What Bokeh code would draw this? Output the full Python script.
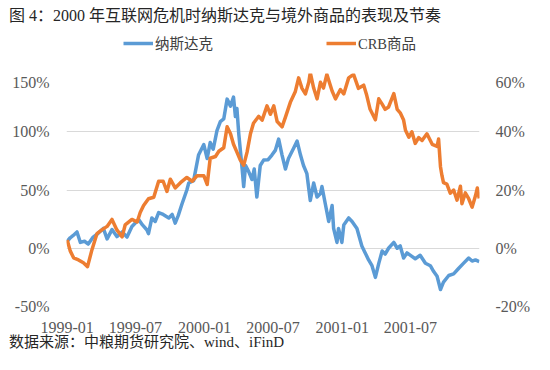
import pandas as pd
from bokeh.plotting import figure
from bokeh.layouts import column
from bokeh.models import (Range1d, LinearAxis, FixedTicker, PrintfTickFormatter, Title,
                          DatetimeTickFormatter, Legend, LegendItem, ColumnDataSource)
from bokeh.embed import file_html
from bokeh.resources import INLINE

title_text = "图 4：2000 年互联网危机时纳斯达克与境外商品的表现及节奏"
source_text = "数据来源：中粮期货研究院、wind、iFinD"
series_names = ["纳斯达克", "CRB商品"]
left_ticks = [-50, 0, 50, 100, 150]
right_ticks = [-20, 0, 20, 40, 60]
x_tick_labels = ["1999-01", "1999-07", "2000-01", "2000-07", "2001-01", "2001-07"]

nasdaq_dates = [
    "1999-01-01", "1999-01-09", "1999-01-17", "1999-01-27", "1999-02-05", "1999-02-16", "1999-02-26",
    "1999-03-11", "1999-03-25", "1999-04-07", "1999-04-17", "1999-04-30", "1999-05-13", "1999-05-27",
    "1999-06-09", "1999-06-22", "1999-07-10", "1999-07-20", "1999-08-01", "1999-08-05", "1999-08-14",
    "1999-08-23", "1999-09-01", "1999-09-13", "1999-09-28", "1999-10-07", "1999-10-15", "1999-10-23",
    "1999-11-02", "1999-11-15", "1999-11-20", "1999-12-03", "1999-12-16", "1999-12-30",
    "2000-01-08", "2000-01-16", "2000-01-24", "2000-02-03", "2000-02-12", "2000-02-21", "2000-03-01",
    "2000-03-10", "2000-03-18", "2000-03-23", "2000-03-27", "2000-04-01", "2000-04-10", "2000-04-14",
    "2000-04-19", "2000-04-27", "2000-05-06", "2000-05-12", "2000-05-19", "2000-05-28", "2000-06-06",
    "2000-06-18", "2000-06-28", "2000-07-07", "2000-07-16", "2000-07-25", "2000-08-03", "2000-08-11",
    "2000-08-25", "2000-09-03", "2000-09-12", "2000-09-20", "2000-09-29", "2000-10-08", "2000-10-17",
    "2000-10-26", "2000-11-04", "2000-11-08", "2000-11-17", "2000-11-26", "2000-12-05", "2000-12-09",
    "2000-12-18", "2000-12-22", "2000-12-31",
    "2001-01-05", "2001-01-18", "2001-01-27", "2001-02-09", "2001-02-22", "2001-03-03", "2001-03-12",
    "2001-03-21", "2001-03-30", "2001-04-08", "2001-04-17", "2001-04-25", "2001-05-04", "2001-05-18",
    "2001-05-27", "2001-06-04", "2001-06-13", "2001-06-22", "2001-07-05", "2001-07-14", "2001-07-27",
    "2001-08-10", "2001-08-23", "2001-09-01", "2001-09-10", "2001-09-19", "2001-09-27", "2001-10-11",
    "2001-10-24", "2001-11-06", "2001-11-19", "2001-12-03", "2001-12-12", "2001-12-21", "2001-12-31",
]
nasdaq_values = [
    6, 9, 11, 14, 5, 6, 3.6,
    9.6, 13, 17, 8, 16, 10, 14,
    9.6, 18.6, 24.6, 20, 15.7, 12.6, 26,
    23, 30.6, 29, 26, 29, 21.6, 28,
    38, 50, 56, 58, 80, 89,
    77, 90.7, 85, 101, 108.7, 111, 128,
    122, 129.7, 113, 120, 98, 68, 53,
    71, 66, 59, 68, 44, 71, 75.7,
    76, 80, 84, 93.7, 80, 68, 77,
    86, 92, 80, 71, 64, 41, 56,
    44, 47, 53, 38, 23, 36.7, 17,
    5, 17, 5,
    20, 26, 23, 17, 2, -4, -10,
    -15, -25, -13, -2.4, -5, 0, 5,
    0, 2, -8.4, -4, -7, -9, -6,
    -12.9, -15, -20, -24, -35.4, -29, -23.4,
    -22, -17.4, -13, -8.4, -11, -10, -11.4,
]

crb_dates = [
    "1999-01-01", "1999-01-09", "1999-01-18", "1999-01-31", "1999-02-13", "1999-02-24", "1999-03-08",
    "1999-03-21", "1999-04-03", "1999-04-17", "1999-04-30", "1999-05-13", "1999-05-27", "1999-06-04",
    "1999-06-22", "1999-07-06", "1999-07-14", "1999-07-23", "1999-08-05", "1999-08-19", "1999-09-01",
    "1999-09-13", "1999-09-23", "1999-10-02", "1999-10-15", "1999-10-29", "1999-11-15", "1999-11-29",
    "1999-12-12", "1999-12-30",
    "2000-01-08", "2000-01-16", "2000-01-30", "2000-02-08", "2000-02-21", "2000-03-01", "2000-03-10",
    "2000-03-18", "2000-03-27", "2000-04-05", "2000-04-14", "2000-04-23", "2000-05-02", "2000-05-10",
    "2000-05-24", "2000-06-02", "2000-06-15", "2000-06-24", "2000-07-03", "2000-07-12", "2000-07-25",
    "2000-08-03", "2000-08-16", "2000-08-29", "2000-09-07", "2000-09-16", "2000-09-25", "2000-10-04",
    "2000-10-08", "2000-10-17", "2000-10-26", "2000-11-04", "2000-11-12", "2000-11-21", "2000-12-05",
    "2000-12-14", "2000-12-27",
    "2001-01-05", "2001-01-18", "2001-01-31", "2001-02-13", "2001-02-27", "2001-03-07", "2001-03-16",
    "2001-03-30", "2001-04-08", "2001-04-17", "2001-04-25", "2001-05-04", "2001-05-18", "2001-05-27",
    "2001-06-04", "2001-06-13", "2001-06-18", "2001-06-27", "2001-07-05", "2001-07-14", "2001-07-23",
    "2001-08-01", "2001-08-14", "2001-08-28", "2001-09-10", "2001-09-14", "2001-09-19", "2001-09-23",
    "2001-09-27", "2001-10-06", "2001-10-15", "2001-10-24", "2001-11-02", "2001-11-11", "2001-11-15",
    "2001-11-24", "2001-12-03", "2001-12-12", "2001-12-21", "2001-12-26", "2001-12-31",
]
crb_values = [
    2.8, -0.9, -3.3, -4, -5, -6.3, -0.4,
    5, 6.3, 7.5, 9.9, 6.3, 3.9, 8,
    9.9, 9, 12.3, 14.7, 17, 17.5, 23,
    23, 19.5, 23.7, 20.7, 22.5, 24.3, 23,
    24.9, 24.9,
    21.9, 30.9, 31.5, 33.3, 34.5, 41.7, 39.3,
    35.7, 33, 30.3, 28.5, 33, 39.3, 42.9,
    45.3, 44, 48.9, 46, 48.9, 43.5, 41.7,
    45, 50.1, 53.7, 58.5, 54.9, 53, 57,
    60.3, 55, 51.3, 57, 55, 59.7, 54,
    51.3, 54.5,
    53, 58.5, 59.7, 54.9, 56, 52.5, 47.7,
    44.1, 51.3, 49.5, 47.7, 48.5, 53.1, 47.7,
    46.5, 44, 40.5, 38.1, 40, 36, 38,
    37, 39.3, 35.7, 35, 37.5, 28, 24.9,
    22.5, 22, 18.9, 20, 16.5, 21.3, 15.3,
    19, 17, 14.1, 18, 20.7, 17.1,
]

SERIF = "'Liberation Serif', 'Noto Sans CJK SC'"
BLUE = "#5B9BD5"
ORANGE = "#ED7D31"
W = 534
FRAME_L, FRAME_R = 66, 479
TOP_H = 73        # header figure (title + legend)
MAIN_H = 281      # 11 px label overhang + 222 px frame + 48 px for x labels and source note

src_n = ColumnDataSource(dict(x=pd.to_datetime(nasdaq_dates), y=nasdaq_values))
src_c = ColumnDataSource(dict(x=pd.to_datetime(crb_dates), y=crb_values))

# ---------------- header: title + legend ----------------
top = figure(width=W, height=TOP_H, x_range=Range1d(0, 1), y_range=Range1d(0, 1),
             x_axis_type=None, y_axis_type=None, output_backend="svg", toolbar_location=None,
             min_border_left=FRAME_L, min_border_right=W - FRAME_R,
             min_border_top=0, min_border_bottom=0)
top.outline_line_color = None
top.xgrid.visible = False
top.ygrid.visible = False
top.background_fill_color = "white"
top.border_fill_color = "white"
top.title = Title(text=title_text, align="left", offset=8.5 - FRAME_L, standoff=12,
                  vertical_align="top", text_font=SERIF, text_font_size="16px",
                  text_font_style="normal", text_color="#262626")
# hidden copies of the two series: they only provide the legend samples
k1 = top.line("x", "y", source=src_n, line_color=BLUE, line_width=3.5, visible=False)
k2 = top.line("x", "y", source=src_c, line_color=ORANGE, line_width=3.5, visible=False)
legend = Legend(items=[LegendItem(label=series_names[0], renderers=[k1]),
                       LegendItem(label=series_names[1], renderers=[k2])],
                location=(123 - FRAME_L, TOP_H - 53), orientation="horizontal", spacing=113,
                glyph_width=30, glyph_height=20, label_height=20, label_standoff=2,
                padding=0, margin=0, border_line_color=None, background_fill_alpha=0,
                label_text_font=SERIF, label_text_font_size="14.5px",
                label_text_color="#404040")
top.add_layout(legend, "center")

# ---------------- main chart ----------------
x_start = pd.Timestamp("1999-01-01") - pd.Timedelta(hours=45)
x_end = pd.Timestamp("2001-12-31") + pd.Timedelta(hours=17)

p = figure(width=W, height=MAIN_H, x_axis_type="datetime", title=None,
           x_range=Range1d(x_start, x_end), y_range=Range1d(left_ticks[0], left_ticks[-1]),
           output_backend="svg", toolbar_location=None,
           min_border_left=FRAME_L, min_border_right=W - FRAME_R,
           min_border_top=0, min_border_bottom=48)
p.outline_line_color = None
p.background_fill_color = "white"
p.border_fill_color = "white"
p.extra_y_ranges = {"right": Range1d(right_ticks[0], right_ticks[-1])}

r1 = p.line("x", "y", source=src_n, line_color=BLUE, line_width=3.5, line_join="round")
r2 = p.line("x", "y", source=src_c, line_color=ORANGE, line_width=3.5, line_join="round",
            y_range_name="right")

raxis = LinearAxis(y_range_name="right")
p.add_layout(raxis, "right")

p.yaxis[0].ticker = FixedTicker(ticks=left_ticks)
p.yaxis[0].formatter = PrintfTickFormatter(format="%d%%")
raxis.ticker = FixedTicker(ticks=right_ticks)
raxis.formatter = PrintfTickFormatter(format="%d%%")

xt = [pd.Timestamp(s + "-01").timestamp() * 1000 for s in x_tick_labels]
p.xaxis.ticker = FixedTicker(ticks=xt)
fmt = "%Y-%m"
p.xaxis.formatter = DatetimeTickFormatter(
    microseconds=fmt, milliseconds=fmt, seconds=fmt, minsec=fmt, minutes=fmt,
    hourmin=fmt, hours=fmt, days=fmt, months=fmt, years=fmt)

for ax in p.axis:
    ax.axis_line_color = None
    ax.major_tick_line_color = None
    ax.minor_tick_line_color = None
    ax.major_tick_in = 0
    ax.major_tick_out = 0
    ax.minor_tick_in = 0
    ax.minor_tick_out = 0
    ax.major_label_text_font = "Liberation Serif"
    ax.major_label_text_font_size = "16px"
    ax.major_label_text_color = "#595959"
p.yaxis[0].major_label_standoff = 17
raxis.major_label_standoff = 16
p.xaxis.major_label_standoff = 15

p.xgrid.grid_line_color = None
p.ygrid.grid_line_color = "#D9D9D9"
p.ygrid.grid_line_width = 1

# source note under the x axis
p.add_layout(Title(text=source_text, align="left", offset=8.5 - FRAME_L, standoff=-4,
                   vertical_align="top", text_font=SERIF, text_font_size="15px",
                   text_font_style="normal", text_color="#262626"), "below")

layout = column(top, p, spacing=0)
open("out.html", "w").write(file_html(layout, INLINE))
